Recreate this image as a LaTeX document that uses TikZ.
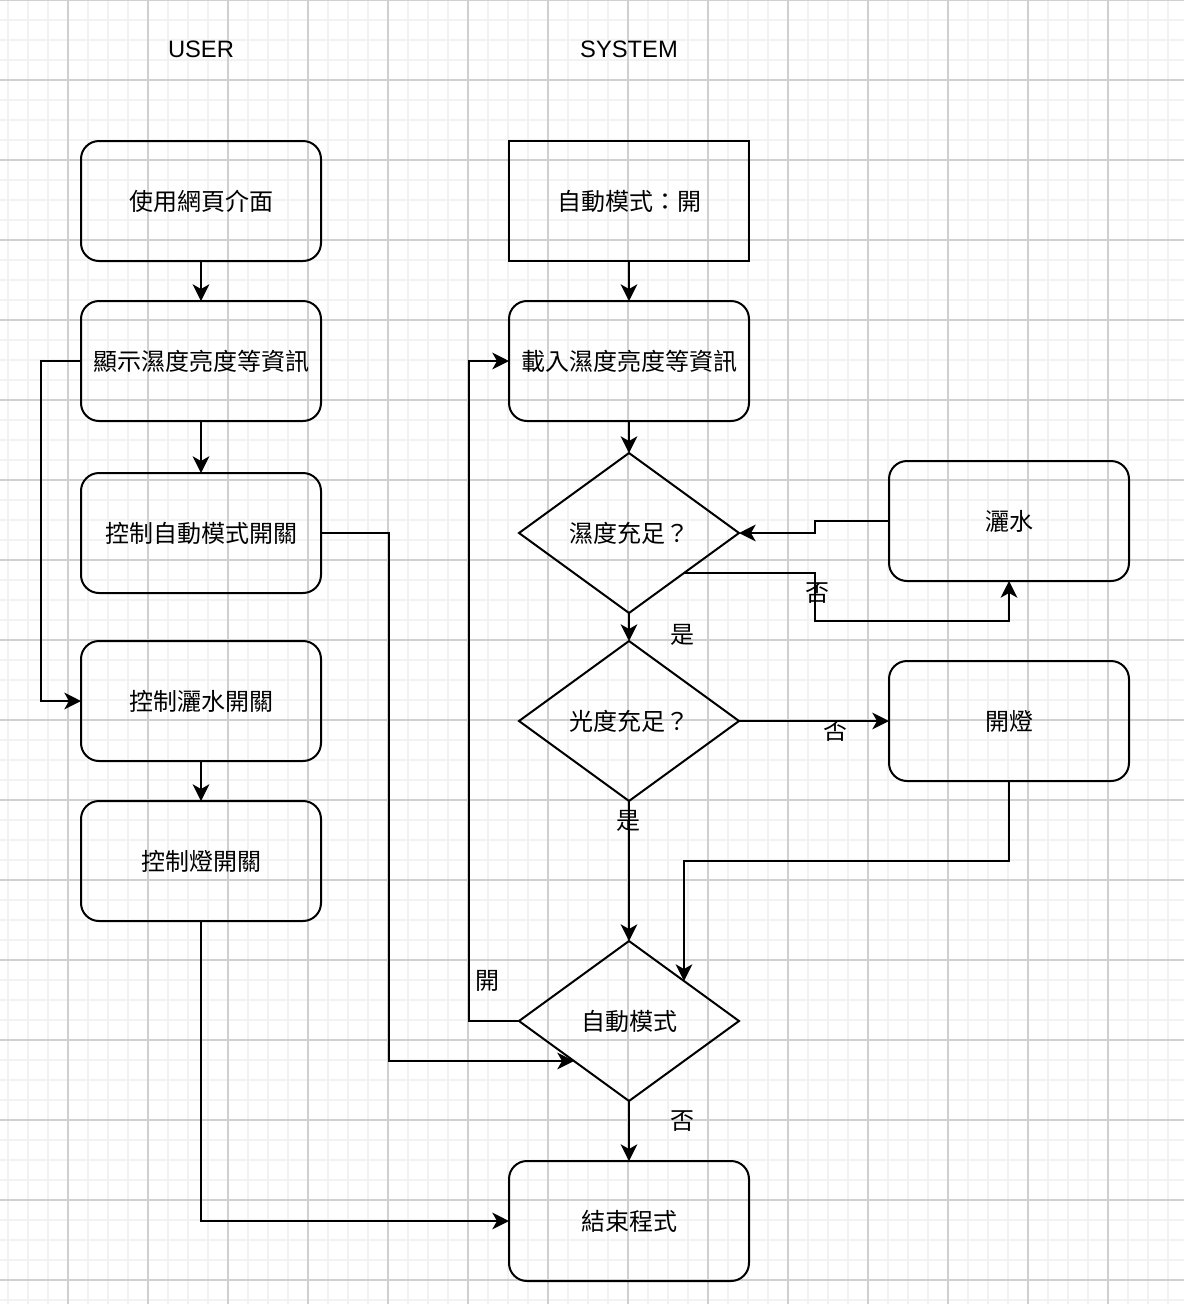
\documentclass[tikz,border=0pt]{standalone}
\usepackage{fontspec}
\setmainfont{Liberation Sans}
\newfontfamily\cjk{Noto Sans CJK TC}
\usetikzlibrary{shapes.geometric,arrows.meta,calc}
\definecolor{gridminor}{HTML}{F2F2F2}
\definecolor{gridmajor}{HTML}{D0D0D0}
\tikzset{
  every node/.style={font=\cjk\fontsize{18pt}{21pt}\selectfont},
  box/.style={draw, line width=1.5pt, rounded corners=13.5pt, minimum width=180pt, minimum height=90pt, inner sep=0pt, outer sep=0pt},
  sharpbox/.style={draw, line width=1.5pt, minimum width=180pt, minimum height=90pt, inner sep=0pt, outer sep=0pt},
  decision/.style={draw, line width=1.5pt, diamond, minimum width=165pt, minimum height=120pt, aspect=1.375, inner sep=0pt, outer sep=0pt},
  arr/.style={line width=1.5pt, -{Stealth[length=12.5pt, width=12.5pt, inset=3.5pt]}},
  lbl/.style={inner sep=0pt},
  head/.style={font=\fontsize{17.8pt}{20pt}\selectfont}
}
\begin{document}
\begin{tikzpicture}[x=0.75pt, y=-0.75pt]
\useasboundingbox (0,0) rectangle (1184,1304);
\fill[white] (0,0) rectangle (1184,1304);
% grid
\foreach \gx in {8,28,...,1184} \draw[gridminor, line width=1.5pt] (\gx,0) -- (\gx,1304);
\foreach \gy in {0,20,...,1304} \draw[gridminor, line width=1.5pt] (0,\gy) -- (1184,\gy);
\foreach \gx in {68,148,...,1184} \draw[gridmajor, line width=1pt] (\gx,0) -- (\gx,1304);
\foreach \gy in {0,80,...,1304} \draw[gridmajor, line width=1pt] (0,\gy) -- (1184,\gy);

% headers
\node[head] (huser) at (201,49) {USER};
\node[head] (hsys) at (629,49) {SYSTEM};

% user column
\node[box] (u1) at (201,201) {使用網頁介面};
\node[box] (u2) at (201,361) {顯示濕度亮度等資訊};
\node[box] (u3) at (201,533) {控制自動模式開關};
\node[box] (u4) at (201,701) {控制灑水開關};
\node[box] (u5) at (201,861) {控制燈開關};

% system column
\node[sharpbox] (s1) at (629,201) {自動模式：開};
\node[box] (load) at (629,361) {載入濕度亮度等資訊};
\node[decision] (d1) at (629,533) {濕度充足？};
\node[decision] (d2) at (629,721) {光度充足？};
\node[decision] (d3) at (629,1021) {自動模式};
\node[box] (fin) at (629,1221) {結束程式};
\node[box] (water) at (1009,521) {灑水};
\node[box] (lamp) at (1009,721) {開燈};

\coordinate (d1lr) at ($(d1.east)!0.5!(d1.south)$);
\coordinate (d3ur) at ($(d3.east)!0.5!(d3.north)$);
\coordinate (d3ll) at ($(d3.west)!0.5!(d3.south)$);

% user connectors
\draw[arr] (u1.south) -- (u2.north);
\draw[arr] (u2.south) -- (u3.north);
\draw[arr] (u2.west) -- ++(-40,0) |- (u4.west);
\draw[arr] (u4.south) -- (u5.north);
\draw[arr] (u3.east) -- ++(68,0) |- (d3ll);
\draw[arr] (u5.south) |- (fin.west);

% system connectors
\draw[arr] (s1.south) -- (load.north);
\draw[arr] (load.south) -- (d1.north);
\draw[arr] (d1.south) -- (d2.north);
\draw[arr] (d1lr) -- ++(131,0) -- ++(0,48) -| (water.south);
\draw[arr] (water.west) -- ++(-74,0) |- (d1.east);
\draw[arr] (d2.east) -- (lamp.west);
\draw[arr] (d2.south) -- (d3.north);
\draw[arr] (lamp.south) -- ++(0,80) -| (d3ur);
\draw[arr] (d3.west) -- ++(-50,0) |- (load.west);
\draw[arr] (d3.south) -- (fin.north);

% labels
\node[lbl] (l1) at (682,635) {是};
\node[lbl] (l2) at (817,593) {否};
\node[lbl] (l3) at (835,731) {否};
\node[lbl] (l4) at (628,821) {是};
\node[lbl] (l5) at (487,981) {開};
\node[lbl] (l6) at (682,1121) {否};
\end{tikzpicture}
\end{document}
